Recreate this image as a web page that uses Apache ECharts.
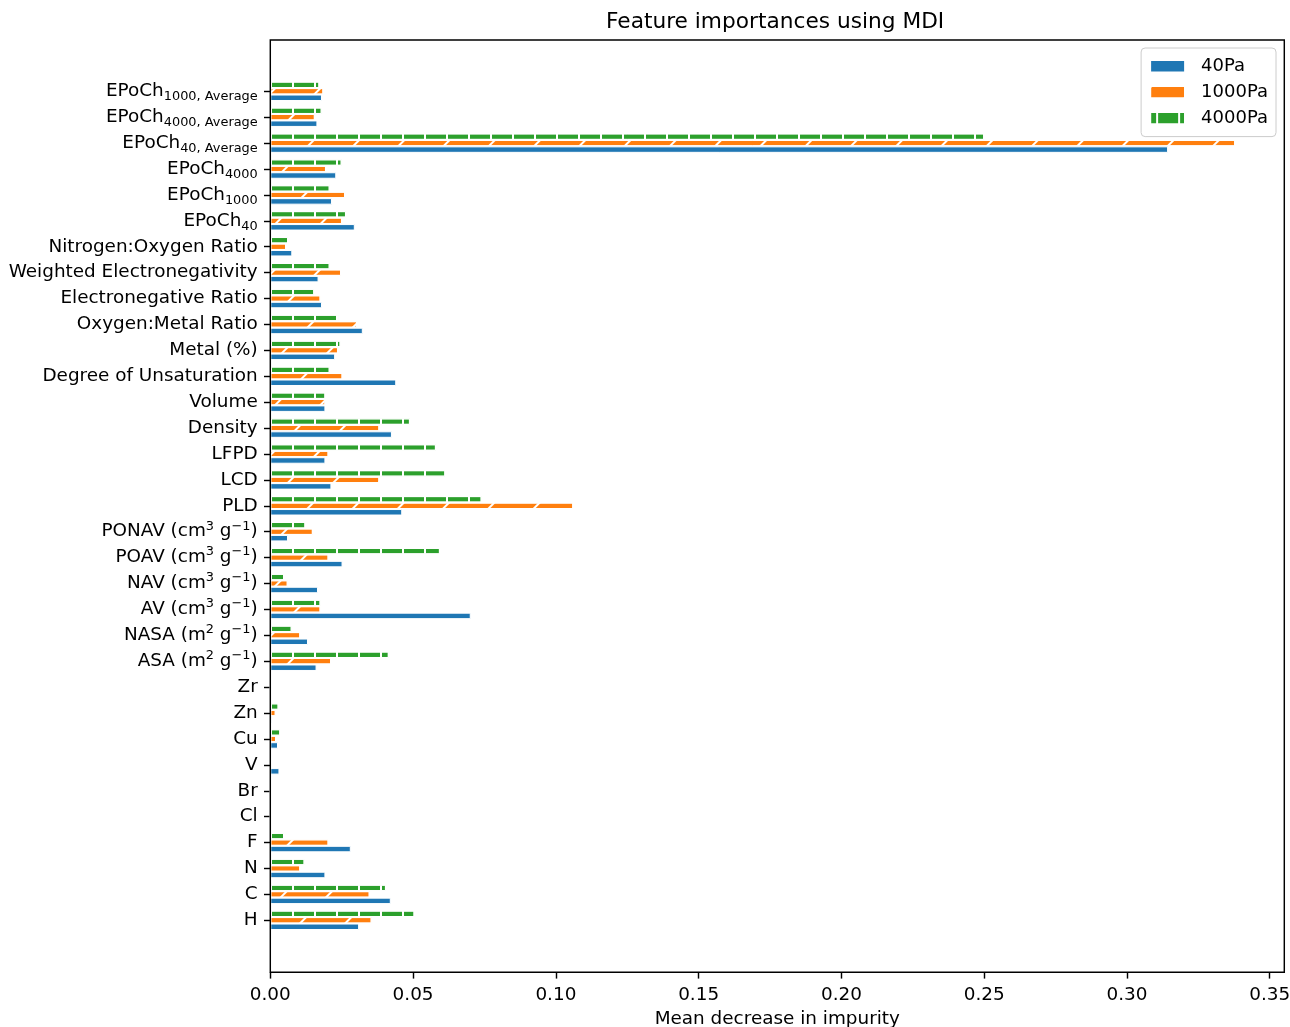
<!DOCTYPE html>
<html><head><meta charset="utf-8">
<script src="https://cdn.jsdelivr.net/npm/echarts@6/dist/echarts.min.js"></script>
<style>html,body{margin:0;padding:0;background:#fff}#c{width:1290px;height:1027px}</style>
</head><body><div id="c"></div>
<script>
// Categories listed bottom -> top (as on the y axis)
const categories = [
  'H','C','N','F','Cl','Br','V','Cu','Zn','Zr',
  'ASA (m^{2} g^{−1})','NASA (m^{2} g^{−1})','AV (cm^{3} g^{−1})','NAV (cm^{3} g^{−1})',
  'POAV (cm^{3} g^{−1})','PONAV (cm^{3} g^{−1})',
  'PLD','LCD','LFPD','Density','Volume','Degree of Unsaturation','Metal (%)',
  'Oxygen:Metal Ratio','Electronegative Ratio','Weighted Electronegativity','Nitrogen:Oxygen Ratio',
  'EPoCh_{40}','EPoCh_{1000}','EPoCh_{4000}',
  'EPoCh_{40, Average}','EPoCh_{4000, Average}','EPoCh_{1000, Average}'
];
const seriesNames = ['40Pa', '1000Pa', '4000Pa'];
const pa40 = [
  0.0311, 0.0422, 0.0193, 0.0282, 0, 0, 0.0032, 0.0027, 0.0005, 0,
  0.0162, 0.0132, 0.0702, 0.0167, 0.0253, 0.0062,
  0.0462, 0.0214, 0.0193, 0.0426, 0.0193, 0.0441, 0.0227,
  0.0324, 0.0181, 0.0169, 0.0077,
  0.0296, 0.0216, 0.0231,
  0.3144, 0.0165, 0.0181
];
const pa1000 = [
  0.0355, 0.0348, 0.0105, 0.0204, 0, 0, 0.0003, 0.0020, 0.0019, 0,
  0.0213, 0.0105, 0.0176, 0.0061, 0.0204, 0.0149,
  0.1061, 0.0382, 0.0204, 0.0382, 0.0193, 0.0253, 0.0237,
  0.0304, 0.0176, 0.0248, 0.0055,
  0.0251, 0.0262, 0.0195,
  0.3379, 0.0156, 0.0186
];
const pa4000 = [
  0.0505, 0.0405, 0.0120, 0.0048, 0, 0, 0, 0.0035, 0.0029, 0,
  0.0415, 0.0075, 0.0176, 0.0048, 0.0594, 0.0123,
  0.0740, 0.0613, 0.0580, 0.0489, 0.0193, 0.0208, 0.0246,
  0.0239, 0.0154, 0.0208, 0.0062,
  0.0265, 0.0208, 0.0250,
  0.2500, 0.0180, 0.0172
];
const xTicks = [0, 0.05, 0.10, 0.15, 0.20, 0.25, 0.30, 0.35];
const xMax = 0.3551;

const FONT = 'DejaVu Sans';
function toRich(s) {
  let r = '{m|' + s.replace(/_\{([^}]*)\}/g, '}{s|$1}{m|').replace(/\^\{([^}]*)\}/g, '}{p|$1}{m|') + '}';
  return r.replace(/\{m\|\}/g, '');
}

const colors = ['#1f77b4', '#ff7f0e', '#2ca02c'];
const decals = [
  null,
  {symbol: 'rect', symbolSize: 1, color: '#ffffff', dashArrayX: [1.4, 29.5], dashArrayY: [10, 0], rotation: Math.PI / 4},
  {symbol: 'rect', symbolSize: 1, color: '#ffffff', dashArrayX: [0, 6, 2, 14], dashArrayY: [10, 0], rotation: 0}
];
const dataSets = [pa40, pa1000, pa4000];

const chart = echarts.init(document.getElementById('c'), null, {renderer: 'canvas'});
// ECharts stacks horizontal-bar series top-down, so add them in reverse (4000Pa on top, 40Pa at bottom)
const series = [2, 1, 0].map(i => {
  const st = {color: colors[i], borderColor: '#ffffff', borderWidth: 1};
  if (decals[i]) st.decal = decals[i];
  return {
    name: seriesNames[i], type: 'bar', data: dataSets[i],
    barWidth: 6.48, barGap: '0%',
    itemStyle: st, animation: false,
    emphasis: {disabled: true}
  };
});

const LBL = 18.4;
chart.setOption({
  backgroundColor: '#ffffff',
  animation: false,
  title: {
    text: 'Feature importances using MDI', left: 606, top: 11,
    padding: 0,
    textStyle: {fontFamily: FONT, fontSize: 21.7, fontWeight: 'normal', color: '#000'}
  },
  legend: {
    data: seriesNames, orient: 'vertical', right: 14, top: 48,
    icon: 'rect', itemWidth: 35, itemHeight: 12.6, itemGap: 8,
    padding: [9.3, 8, 9.3, 8],
    borderColor: '#cccccc', borderWidth: 1, borderRadius: 4, backgroundColor: '#ffffff',
    textStyle: {fontFamily: FONT, fontSize: 18, color: '#000', padding: [0, 0, 0, 11]}
  },
  grid: {left: 270.3, right: 5.7, top: 78.35, bottom: 93.75, containLabel: false, outerBoundsMode: 'none'},
  xAxis: {
    type: 'value', min: 0, max: xMax, offset: 39.05,
    splitLine: {show: false},
    axisLine: {show: false},
    axisTick: {show: true, length: 6.3, lineStyle: {color: '#000', width: 1.44}, customValues: xTicks},
    axisLabel: {customValues: xTicks, formatter: v => v.toFixed(2), margin: 14,
      fontFamily: FONT, fontSize: LBL, color: '#000'},
    name: 'Mean decrease in impurity', nameLocation: 'middle', nameGap: 37.5,
    nameTextStyle: {fontFamily: FONT, fontSize: LBL, color: '#000'}
  },
  yAxis: {
    type: 'category', data: categories,
    axisLine: {show: false},
    axisTick: {show: true, alignWithLabel: true, length: 6.3, lineStyle: {color: '#000', width: 1.44}},
    axisLabel: {
      interval: 0, margin: 12.6, formatter: v => toRich(v),
      rich: {
        m: {fontFamily: FONT, fontSize: LBL, color: '#000', lineHeight: 24, verticalAlign: 'middle'},
        s: {fontFamily: FONT, fontSize: 12.9, color: '#000', lineHeight: 14, verticalAlign: 'bottom'},
        p: {fontFamily: FONT, fontSize: 12.9, color: '#000', lineHeight: 16, verticalAlign: 'top'}
      }
    },
    splitLine: {show: false}
  },
  graphic: [{
    type: 'rect', z: 100, silent: true,
    shape: {x: 270.3, y: 40, width: 1014, height: 932.3},
    style: {fill: 'none', stroke: '#000', lineWidth: 1.44}
  }],
  series: series
});
</script>
</body></html>
